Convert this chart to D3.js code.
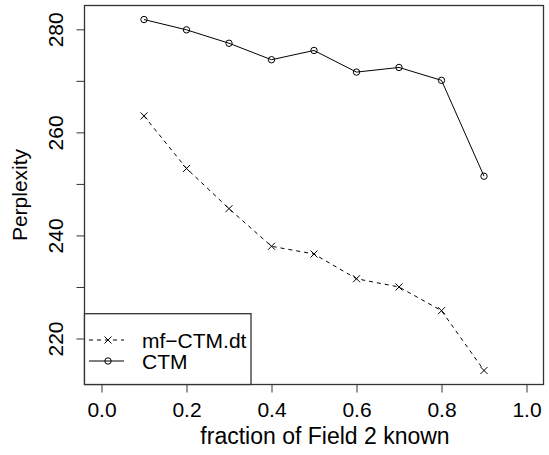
<!DOCTYPE html>
<html><head><meta charset="utf-8">
<script src="https://cdn.jsdelivr.net/npm/d3@7"></script>
<style>body{margin:0;background:#fff}text{font-family:"Liberation Sans",Arial,Helvetica,sans-serif}</style>
</head><body><svg id="c" width="549" height="455"></svg>
<script>
const fractions = [0.1,0.2,0.3,0.4,0.5,0.6,0.7,0.8,0.9];
const ctm = [281.9,279.9,277.3,274.1,275.9,271.7,272.6,270.1,251.5];
const mfctm = [263.2,253.0,245.2,237.9,236.4,231.6,230.0,225.4,213.8];
const xTicks = [0,0.2,0.4,0.6,0.8,1.0];
const yTicks = [220,230,240,250,260,270,280];
const yLabels = [220,240,260,280];
const seriesNames = ["mf\u2212CTM.dt","CTM"];

const svg = d3.select("#c");
const L=84.5, R=543.5, T=5.5, B=384.5;
const FS = 21;
const xs = d3.scaleLinear().domain([-0.04,1.04]).range([L,R]);
const ymin=213.8, ymax=281.9, pad=(ymax-ymin)*0.04;
const ys = d3.scaleLinear().domain([ymin-pad,ymax+pad]).range([B,T]);

// box
svg.append("rect").attr("x",L).attr("y",T).attr("width",R-L).attr("height",B-T)
  .attr("fill","none").attr("stroke","#333").attr("stroke-width",1.3);

// x axis
const xa = svg.append("g").attr("transform",`translate(0,${B})`)
  .call(d3.axisBottom(xs).tickValues(xTicks).tickSize(8).tickFormat(d3.format(".1f")));
xa.select(".domain").remove();
xa.selectAll(".tick line").attr("stroke","#333");
xa.selectAll(".tick text").attr("font-size",FS).attr("fill","#000").attr("dy",null).attr("y",32.2);

// y axis
const ya = svg.append("g").attr("transform",`translate(${L},0)`)
  .call(d3.axisLeft(ys).tickValues(yTicks).tickSize(8).tickFormat(d=>yLabels.includes(d)?d:""));
ya.select(".domain").remove();
ya.selectAll(".tick line").attr("stroke","#333");
ya.selectAll(".tick text").attr("font-size",FS).attr("fill","#000")
  .attr("x",null).attr("dy",null).attr("text-anchor","middle")
  .attr("transform","translate(-21.2,0) rotate(-90)");

// titles
svg.append("text").attr("x",325).attr("y",444).attr("text-anchor","middle").attr("font-size",23).text("fraction of Field 2 known");
svg.append("text").attr("transform",`translate(26.7,195) rotate(-90)`).attr("text-anchor","middle").attr("font-size",FS).text("Perplexity");

const line = d3.line().x((d,i)=>xs(fractions[i])).y(d=>ys(d));

// CTM
svg.append("path").datum(ctm).attr("d",line).attr("fill","none").attr("stroke","#000").attr("stroke-width",1);
svg.selectAll(".ctmpt").data(ctm).enter().append("circle")
  .attr("cx",(d,i)=>xs(fractions[i])).attr("cy",d=>ys(d)).attr("r",3.2)
  .attr("fill","none").attr("stroke","#000").attr("stroke-width",1);

// mf-CTM.dt
svg.append("path").datum(mfctm).attr("d",line).attr("fill","none").attr("stroke","#000").attr("stroke-width",1).attr("stroke-dasharray","4,4");
const cross = (g,cx,cy,s)=>{
  g.append("path").attr("d",`M${cx-s},${cy-s}L${cx+s},${cy+s}M${cx-s},${cy+s}L${cx+s},${cy-s}`)
   .attr("stroke","#000").attr("stroke-width",1).attr("fill","none");
};
mfctm.forEach((d,i)=>cross(svg,xs(fractions[i]),ys(d),3.5));

// legend
const lg = svg.append("g");
lg.append("rect").attr("x",L).attr("y",313.7).attr("width",251-L).attr("height",B-313.7)
  .attr("fill","#fff").attr("stroke","#333").attr("stroke-width",1.3);
const rows=[340,361];
lg.append("line").attr("x1",89).attr("x2",124).attr("y1",rows[0]).attr("y2",rows[0]).attr("stroke","#000").attr("stroke-dasharray","4,4");
cross(lg,108,rows[0],3.5);
lg.append("line").attr("x1",89).attr("x2",124).attr("y1",rows[1]).attr("y2",rows[1]).attr("stroke","#000");
lg.append("circle").attr("cx",108).attr("cy",rows[1]).attr("r",3.2).attr("fill","none").attr("stroke","#000");
seriesNames.forEach((n,i)=>lg.append("text").attr("x",142).attr("y",rows[i]).attr("dy","0.36em").attr("font-size",FS).text(n));
</script></body></html>
